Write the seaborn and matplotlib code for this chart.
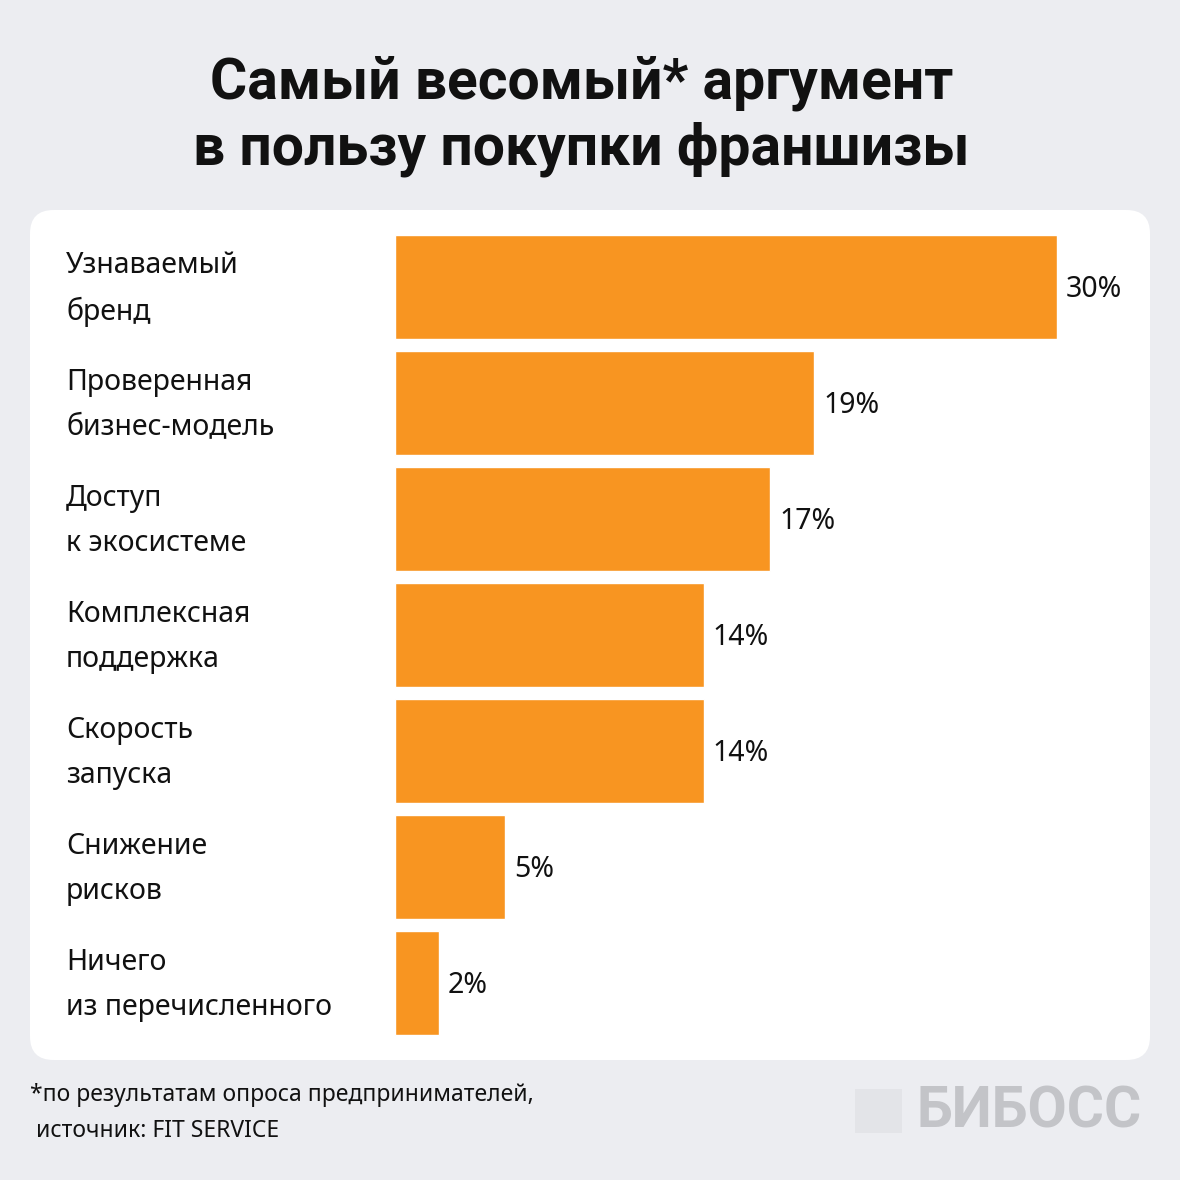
import matplotlib
matplotlib.use("Agg")
import matplotlib.pyplot as plt
import seaborn as sns
import pandas as pd
from matplotlib.patches import FancyBboxPatch, Rectangle

categories = ["Узнаваемый\nбренд", "Проверенная\nбизнес-модель", "Доступ\nк экосистеме",
              "Комплексная\nподдержка", "Скорость\nзапуска", "Снижение\nрисков",
              "Ничего\nиз перечисленного"]
values = [30, 19, 17, 14, 14, 5, 2]
value_labels = ["30%", "19%", "17%", "14%", "14%", "5%", "2%"]

title = "Самый весомый* аргумент\nв пользу покупки франшизы"
footnote = "*по результатам опроса предпринимателей,\n источник: FIT SERVICE"

bg = "#ECEDF1"
orange = "#F89521"

sns.set_theme(style="white")
plt.rcParams['font.family'] = ['Noto Sans', 'DejaVu Sans']

W = H = 1180
fig = plt.figure(figsize=(11.8, 11.8), dpi=100, facecolor=bg)

# white rounded panel behind the axes
panel = FancyBboxPatch((30 / W, 1 - 1060 / H), 1120 / W, 850 / H,
                       boxstyle="round,pad=0,rounding_size=0.02",
                       transform=fig.transFigure, facecolor="white",
                       edgecolor="none", zorder=-5)
fig.patches.append(panel)

top_px, bot_px = 229, 1041
ax = fig.add_axes([395 / W, 1 - bot_px / H, 662 / W, (bot_px - top_px) / H])
ax.set_facecolor("none")
ax.set_zorder(2)

df = pd.DataFrame({"cat": categories, "val": values})
sns.barplot(data=df, x="val", y="cat", color=orange, saturation=1,
            width=0.897, ax=ax)
ax.set_xlim(0, 30)
ax.set_ylim(6.5, -0.5)
ax.axis("off")

for i, (v, lab) in enumerate(zip(values, value_labels)):
    ax.text(v + 0.4, i + 0.02, lab, va="center", ha="left", fontsize=20.5,
            color="#111111", clip_on=False)

for i, cat in enumerate(categories):
    y_px = 289 + 116 * i
    fig.text(66 / W, 1 - y_px / H, cat, ha="left", va="center", fontsize=20.5,
             color="#111111", linespacing=1.75)

fig.text(0.493, 1 - 116 / H, title, ha="center", va="center", fontsize=41,
         fontweight="bold", family=["Roboto", "DejaVu Sans"], color="#111111",
         linespacing=1.25)

fig.text(30 / W, 1 - 1113 / H, footnote, ha="left", va="center", fontsize=16.5,
         color="#111111", linespacing=1.65)

# logo
fig.patches.append(Rectangle((855 / W, 1 - 1133 / H), 47 / W, 44 / H,
                             transform=fig.transFigure, facecolor="#E3E4E8",
                             edgecolor="none"))
fig.text(917 / W, 1 - 1112 / H, "БИБОСС", ha="left", va="center", fontsize=41,
         fontweight="bold", family=["Roboto", "DejaVu Sans"], color="#C3C4C8")

fig.savefig("out.png", dpi=100, facecolor=bg)
